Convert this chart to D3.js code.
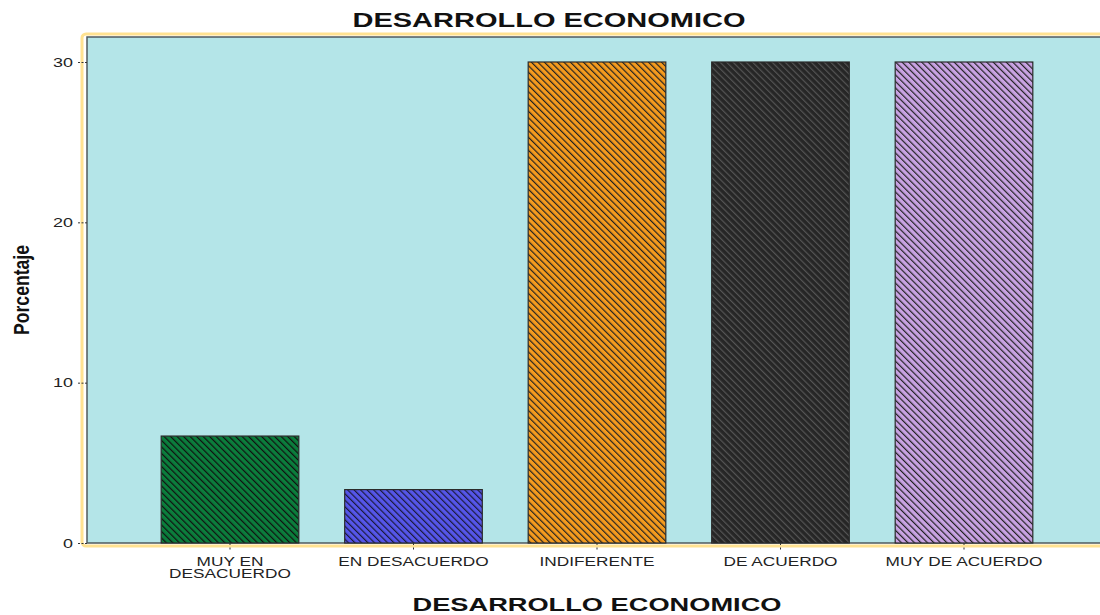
<!DOCTYPE html>
<html>
<head>
<meta charset="utf-8">
<script src="https://cdn.jsdelivr.net/npm/d3@7"></script>
<style>
  body { margin: 0; background: #fff; }
  svg { display: block; font-family: "Liberation Sans", Arial, sans-serif; }
</style>
</head>
<body>
<svg id="chart" width="1100" height="615"></svg>
<script>
// data
var categories = ["MUY EN|DESACUERDO", "EN DESACUERDO", "INDIFERENTE", "DE ACUERDO", "MUY DE ACUERDO"]
var values = [6.67, 3.33, 30, 30, 30]
var barColors = ["#0b7d3c", "#5656ea", "#f59b1e", "#262626", "#c9a3e3"]
var hatchColors = ["#111", "#1a1a3a", "#222", "#555", "#222"]
var yTicks = [0, 10, 20, 30]

var svg = d3.select("#chart")

var dims = {
    plotLeft: 87,
    plotTop: 37,
    plotBottom: 543,
    plotRight: 1140
}
var stretch = 1.38  // the original text is drawn horizontally wider

// stretch a text element horizontally around its anchor
function widen(sel, k) {
    sel.each(function() {
        var w = this.getComputedTextLength()
        d3.select(this).attr("textLength", w * k).attr("lengthAdjust", "spacingAndGlyphs")
    })
}

var yScale = d3.scaleLinear()
               .domain([0, 30])
               .range([543, 62])

var xScale = d3.scaleBand()
               .domain(categories)
               .range([138.25, 1055.75])
               .paddingInner(0.25)
               .paddingOuter(0.125)

// hatch patterns
var defs = svg.append("defs")
categories.forEach((c, i) => {
    var p = defs.append("pattern")
        .attr("id", "hatch" + i)
        .attr("patternUnits", "userSpaceOnUse")
        .attr("width", 4.6)
        .attr("height", 4.6)
        .attr("patternTransform", "rotate(-45)")
    p.append("rect").attr("width", 4.6).attr("height", 4.6).attr("fill", barColors[i])
    p.append("line")
     .attr("x1", 0).attr("y1", 0).attr("x2", 0).attr("y2", 4.6)
     .attr("stroke", hatchColors[i])
     .attr("stroke-width", 2.4)
})

// frame
svg.append("rect")
   .attr("x", dims.plotLeft - 5)
   .attr("y", dims.plotTop - 3)
   .attr("width", dims.plotRight - dims.plotLeft + 10)
   .attr("height", dims.plotBottom - dims.plotTop + 6)
   .attr("rx", 4)
   .attr("fill", "none")
   .attr("stroke", "#ffe291")
   .attr("stroke-width", 3)

svg.append("rect")
   .attr("x", dims.plotLeft)
   .attr("y", dims.plotTop)
   .attr("width", dims.plotRight - dims.plotLeft)
   .attr("height", dims.plotBottom - dims.plotTop)
   .attr("fill", "#b4e5e8")
   .attr("stroke", "#505a5c")
   .attr("stroke-width", 1.5)

// bars
svg.append("g")
   .selectAll("rect")
   .data(categories)
   .enter()
   .append("rect")
   .attr("x", d => xScale(d))
   .attr("y", (d, i) => yScale(values[i]))
   .attr("width", xScale.bandwidth())
   .attr("height", (d, i) => yScale(0) - yScale(values[i]))
   .attr("fill", (d, i) => "url(#hatch" + i + ")")
   .attr("stroke", "#2b2b2b")
   .attr("stroke-width", 1.2)

// y axis
var yAxis = svg.append("g")
   .attr("transform", `translate(${dims.plotLeft},0)`)
   .call(d3.axisLeft(yScale).tickValues(yTicks).tickSize(10).tickPadding(4))
yAxis.select(".domain").remove()
yAxis.selectAll(".tick line").attr("stroke", "#333").attr("stroke-dasharray", "2,1.5")
yAxis.selectAll(".tick text")
     .attr("font-size", 13)
     .attr("fill", "#222")
     .style("font-family", "Liberation Sans, Arial, sans-serif")
     .call(widen, stretch)

// x axis
var xAxis = svg.append("g")
   .attr("transform", `translate(0,${dims.plotBottom})`)
   .call(d3.axisBottom(xScale).tickSize(9).tickFormat(""))
xAxis.select(".domain").remove()
xAxis.selectAll(".tick line").attr("stroke", "#333").attr("stroke-dasharray", "2,2.5")

var xLabels = svg.append("g")
categories.forEach(c => {
    var lines = c.split("|")
    lines.forEach((l, j) => {
        xLabels.append("text")
         .attr("text-anchor", "middle")
         .attr("font-size", 12.5)
         .attr("fill", "#222")
         .attr("x", xScale(c) + xScale.bandwidth() / 2)
         .attr("y", 566 + j * 12)
         .text(l)
    })
})
xLabels.selectAll("text").call(widen, stretch)

// titles
svg.append("text")
   .attr("text-anchor", "middle")
   .attr("x", 549)
   .attr("y", 27)
   .attr("font-size", 20)
   .attr("font-weight", "bold")
   .attr("textLength", 393)
   .attr("lengthAdjust", "spacingAndGlyphs")
   .attr("fill", "#111")
   .text("DESARROLLO ECONOMICO")

svg.append("text")
   .attr("text-anchor", "middle")
   .attr("x", 597)
   .attr("y", 611)
   .attr("font-size", 19)
   .attr("font-weight", "bold")
   .attr("textLength", 369)
   .attr("lengthAdjust", "spacingAndGlyphs")
   .attr("fill", "#111")
   .text("DESARROLLO ECONOMICO")

svg.append("text")
   .attr("text-anchor", "middle")
   .attr("transform", "translate(29,290) rotate(-90) scale(0.8,1)")
   .attr("font-size", 22)
   .attr("font-weight", "bold")
   .attr("fill", "#111")
   .text("Porcentaje")
</script>
</body>
</html>
